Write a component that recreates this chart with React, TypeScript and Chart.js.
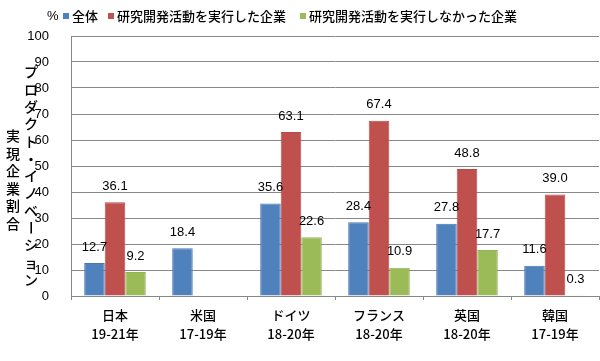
import React, { useEffect, useRef } from "react";
import { Chart, registerables } from "chart.js";

Chart.register(...registerables);

const categories: string[][] = [
  ["日本", "19-21年"],
  ["米国", "17-19年"],
  ["ドイツ", "18-20年"],
  ["フランス", "18-20年"],
  ["英国", "18-20年"],
  ["韓国", "17-19年"],
];
const seriesNames = ["全体", "研究開発活動を実行した企業", "研究開発活動を実行しなかった企業"];
const allFirms: (number | null)[] = [12.7, 18.4, 35.6, 28.4, 27.8, 11.6];
const rdFirms: (number | null)[] = [36.1, null, 63.1, 67.4, 48.8, 39.0];
const nonRdFirms: (number | null)[] = [9.2, null, 22.6, 10.9, 17.7, 0.3];
const yTitleOuter = "実現企業割合";
const yTitleInner = "プロダクト・イノベーション";
const unitLabel = "%";

const FONT = "'Liberation Sans', 'Noto Sans CJK JP', sans-serif";
const JFONT = "'Noto Sans CJK JP', sans-serif";
const colors = ["#4F81BD", "#C0504D", "#9BBB59"];
const borders = ["#4677B4", "#B94A47", "#93B452"];

const annotatePlugin = {
  id: "annotate",
  afterDatasetsDraw(chart: any) {
    const ctx = chart.ctx;
    ctx.save();
    ctx.font = `13px ${FONT}`;
    ctx.fillStyle = "#000";
    ctx.textAlign = "center";
    ctx.textBaseline = "middle";
    chart.data.datasets.forEach((ds: any, i: number) => {
      const meta = chart.getDatasetMeta(i);
      meta.data.forEach((el: any, j: number) => {
        const v = ds.data[j];
        if (v === null || v === undefined) return;
        ctx.fillText(v.toFixed(1), el.x, el.y - 16);
      });
    });
    ctx.restore();
  },
  afterDraw(chart: any) {
    const ctx = chart.ctx;
    ctx.save();
    // legend
    ctx.font = `500 13px ${JFONT}`;
    ctx.textBaseline = "middle";
    ctx.fillStyle = "#000";
    ctx.textAlign = "left";
    const ly = 16;
    ctx.font = `13px ${FONT}`;
    ctx.fillText(unitLabel, 47, ly);
    ctx.font = `500 13px ${JFONT}`;
    const starts = [63, 108, 300];
    seriesNames.forEach((name, i) => {
      ctx.fillStyle = colors[i];
      ctx.fillRect(starts[i], ly - 3, 6, 6);
      ctx.fillStyle = "#000";
      ctx.fillText(name, starts[i] + 9, ly);
    });
    // vertical titles
    ctx.font = `500 14px ${JFONT}`;
    ctx.textAlign = "center";
    ctx.textBaseline = "middle";
    const drawVertical = (text: string, x: number, yStart: number, step: number) => {
      Array.from(text).forEach((ch, k) => {
        const y = yStart + k * step;
        if (ch === "ー") {
          ctx.save();
          ctx.translate(x, y);
          ctx.rotate(Math.PI / 2);
          ctx.fillText(ch, 0, 0);
          ctx.restore();
        } else {
          ctx.fillText(ch, x, y);
        }
      });
    };
    drawVertical(yTitleOuter, 13, 136, 17.5);
    drawVertical(yTitleInner, 31, 72, 17.3);
    ctx.restore();
  },
};

export default function App() {
  const ref = useRef<HTMLCanvasElement>(null);
  useEffect(() => {
    if (!ref.current) return;
    const chart = new Chart(ref.current, {
      type: "bar",
      data: {
        labels: categories,
        datasets: [allFirms, rdFirms, nonRdFirms].map((d, i) => ({
          label: seriesNames[i],
          data: d,
          backgroundColor: colors[i],
          borderColor: borders[i],
          borderWidth: 1,
          categoryPercentage: 0.7,
          barPercentage: 1,
        })),
      },
      options: {
        responsive: false,
        animation: false,
        layout: { padding: { top: 36, right: 1, left: 0, bottom: 0 } },
        plugins: { legend: { display: false }, tooltip: { enabled: false } },
        scales: {
          x: {
            grid: { display: true, drawOnChartArea: false, drawTicks: true, tickLength: 4, offset: true, color: "#888" },
            border: { color: "#888" },
            ticks: {
              color: "#000",
              font: { family: JFONT, size: 13, weight: "500", lineHeight: 1.45 },
              padding: 6,
              maxRotation: 0,
            },
            afterFit(scale: any) {
              scale.height = 65;
            },
          },
          y: {
            min: 0,
            max: 100,
            ticks: { stepSize: 10, color: "#000", font: { family: FONT, size: 13 }, padding: 22 },
            grid: { color: "#888", tickLength: 0 },
            border: { color: "#888" },
            afterFit(scale: any) {
              scale.width = 71;
            },
          },
        },
      },
      plugins: [annotatePlugin],
    });
    return () => chart.destroy();
  }, []);
  return (
    <div style={{ position: "fixed", left: 0, top: 0, width: 600, height: 361, background: "#fff" }}>
      <canvas ref={ref} width={600} height={361} />
    </div>
  );
}
